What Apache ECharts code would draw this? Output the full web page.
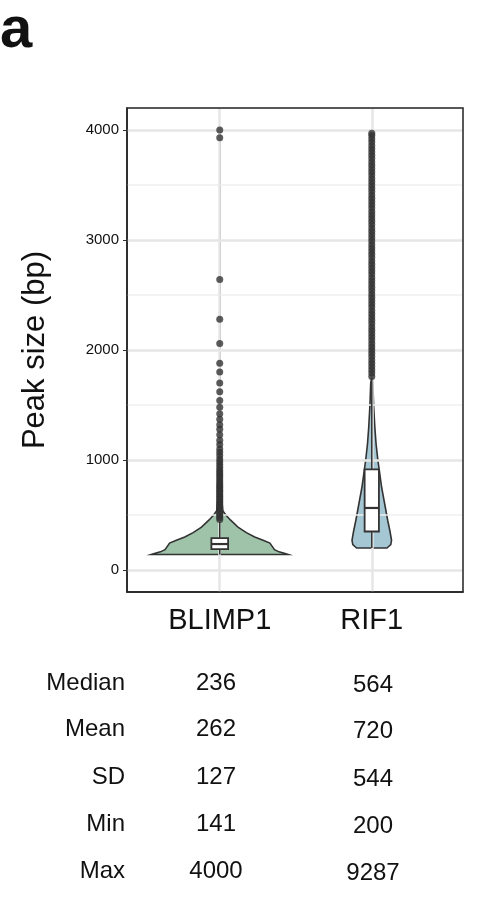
<!DOCTYPE html><html><head><meta charset="utf-8">
<script src="https://cdn.jsdelivr.net/npm/echarts@6/dist/echarts.min.js"></script>
<style>html,body{margin:0;padding:0;background:#fff}#c{width:488px;height:902px}</style></head><body><div id="c"></div>
<script>
const categories=['BLIMP1','RIF1'];
const yTicks=[0,1000,2000,3000,4000];
// violin outline: [value, half width in category units]
const violinBLIMP1=[[141,0],[141,0.45],[150,0.43],[165,0.39],[185,0.36],[215,0.345],[245,0.33],[270,0.285],[300,0.23],[340,0.175],[390,0.12],[455,0.07],[500,0.04],[540,0.02],[650,0.012],[900,0.008]];
const violinRIF1=[[200,0],[200,0.10],[230,0.125],[270,0.13],[350,0.12],[450,0.105],[600,0.085],[750,0.065],[900,0.05],[1000,0.04],[1150,0.028],[1300,0.02],[1500,0.012],[1700,0.007],[1750,0]];
// box stats [min whisker, q1, median, q3, max whisker]
const boxBLIMP1=[141,190,236,290,440];
const boxRIF1=[200,350,564,915,1750];
const outliersBLIMP1=[460,475,490,505,520,535,550,565,580,595,610,625,640,655,670,685,700,715,730,745,760,775,790,810,830,850,870,890,910,935,960,985,1010,1040,1070,1100,1140,1180,1230,1280,1320,1370,1420,1480,1540,1620,1700,1800,1880,2060,2280,2640,3930,4000];
const outliersRIF1=[1760,1790,1820,1850,1880,1910,1940,1970,2000,2030,2060,2090,2120,2150,2180,2210,2240,2270,2300,2330,2360,2390,2420,2450,2480,2510,2540,2570,2600,2630,2660,2690,2720,2750,2780,2810,2840,2870,2900,2930,2960,2990,3020,3050,3080,3110,3140,3170,3200,3230,3260,3290,3320,3350,3380,3410,3440,3470,3500,3530,3560,3590,3620,3650,3680,3710,3740,3770,3800,3830,3860,3890,3920,3950,3970];
const statNames=['Median','Mean','SD','Min','Max'];
const statsBLIMP1=['236','262','127','141','4000'];
const statsRIF1=['564','720','544','200','9287'];
const colors=['#9ec3a9','#a5c7d3'];

function violinItem(outline,pos,color){
  return function(params,api){
    const right=outline.map(d=>api.coord([pos+d[1],d[0]]));
    const left=outline.slice().reverse().map(d=>api.coord([pos-d[1],d[0]]));
    return {type:'polygon',shape:{points:right.concat(left),smooth:0},style:{fill:color,stroke:'#333',lineWidth:1.6}};
  };
}
function boxItem(b,pos,hw){
  return function(params,api){
    const c=(v,o)=>api.coord([pos+o,v]);
    const p1=c(b[1],-hw),p2=c(b[3],hw);
    const m1=c(b[2],-hw),m2=c(b[2],hw);
    const w1=c(b[0],0),w2=c(b[1],0),w3=c(b[3],0),w4=c(b[4],0);
    return {type:'group',children:[
      {type:'line',shape:{x1:w1[0],y1:w1[1],x2:w2[0],y2:w2[1]},style:{stroke:'#333',lineWidth:1.5}},
      {type:'line',shape:{x1:w3[0],y1:w3[1],x2:w4[0],y2:w4[1]},style:{stroke:'#333',lineWidth:1.5}},
      {type:'rect',shape:{x:p1[0],y:p2[1],width:p2[0]-p1[0],height:p1[1]-p2[1]},style:{fill:'#fff',stroke:'#333',lineWidth:1.8}},
      {type:'line',shape:{x1:m1[0],y1:m1[1],x2:m2[0],y2:m2[1]},style:{stroke:'#333',lineWidth:2.2}}
    ]};
  };
}
const gridY=[0,500,1000,1500,2000,2500,3000,3500,4000];
const chart=echarts.init(document.getElementById('c'));
const tableText=[];
const rowY=[683,729,777,824,871];
const F='24px "Liberation Sans", Arial';
statNames.forEach((n,i)=>{
  tableText.push({type:'text',x:125,y:rowY[i],style:{text:n,font:F,fill:'#111',textAlign:'right',textVerticalAlign:'middle'}});
  tableText.push({type:'text',x:216,y:rowY[i],style:{text:statsBLIMP1[i],font:F,fill:'#111',textAlign:'center',textVerticalAlign:'middle'}});
  tableText.push({type:'text',x:373,y:rowY[i]+2,style:{text:statsRIF1[i],font:F,fill:'#111',textAlign:'center',textVerticalAlign:'middle'}});
});
chart.setOption({
  animation:false,
  grid:{left:127,right:25,top:108,bottom:310},
  xAxis:{type:'value',min:0.39,max:2.6,splitLine:{show:false},axisTick:{show:false},
    axisLine:{show:true,onZero:false,lineStyle:{color:'#222',width:1.5}},
    axisLabel:{customValues:[1,2],formatter:v=>categories[Math.round(v)-1],fontSize:29,color:'#111',margin:14,fontFamily:'Liberation Sans'}},
  yAxis:{type:'value',min:-200,max:4200,splitLine:{show:false},
    name:'Peak size (bp)',nameLocation:'middle',nameGap:76,nameTextStyle:{fontSize:31,color:'#111',fontFamily:'Liberation Sans'},
    axisLine:{show:true,lineStyle:{color:'#222',width:1.5}},axisTick:{show:true,customValues:yTicks,length:4,lineStyle:{color:'#333'}},
    axisLabel:{customValues:yTicks,formatter:v=>String(v),fontSize:15,color:'#111',fontFamily:'Liberation Sans'}},
  graphic:[{type:'text',left:0,top:2,style:{text:'a',font:'bold 58px "Liberation Sans", Arial',fill:'#111'}},
    {type:'rect',shape:{x:127,y:108,width:336,height:484},style:{fill:'none',stroke:'#222',lineWidth:1.5},z:100}].concat(tableText),
  series:[
    {type:'line',data:[],markLine:{silent:true,symbol:'none',label:{show:false},
      data:gridY.map(v=>({yAxis:v,lineStyle:{color:v%1000===0?'#e6e6e6':'#efefef',width:v%1000===0?2.5:1.5,type:'solid'}}))
        .concat([1,2].map(v=>({xAxis:v,lineStyle:{color:'#e6e6e6',width:2.5,type:'solid'}})))}},
    {type:'custom',renderItem:violinItem(violinBLIMP1,1,colors[0]),data:[0],z:3},
    {type:'custom',renderItem:violinItem(violinRIF1,2,colors[1]),data:[0],z:3},
    {type:'custom',renderItem:boxItem(boxBLIMP1,1,0.055),data:[0],z:6},
    {type:'custom',renderItem:boxItem(boxRIF1,2,0.047),data:[0],z:6},
    {type:'scatter',data:outliersBLIMP1.map(v=>[1,v]),symbolSize:7,itemStyle:{color:'#333'},z:5},
    {type:'scatter',data:outliersRIF1.map(v=>[2,v]),symbolSize:7,itemStyle:{color:'#333'},z:5},
    {type:'custom',renderItem:function(p,api){const a=api.coord([1,boxBLIMP1[4]]),b=api.coord([1,4000]);return {type:'line',shape:{x1:a[0],y1:a[1],x2:b[0],y2:b[1]},style:{stroke:'#333',lineWidth:1.5}};},data:[0],z:4}
  ]
});
</script></body></html>
